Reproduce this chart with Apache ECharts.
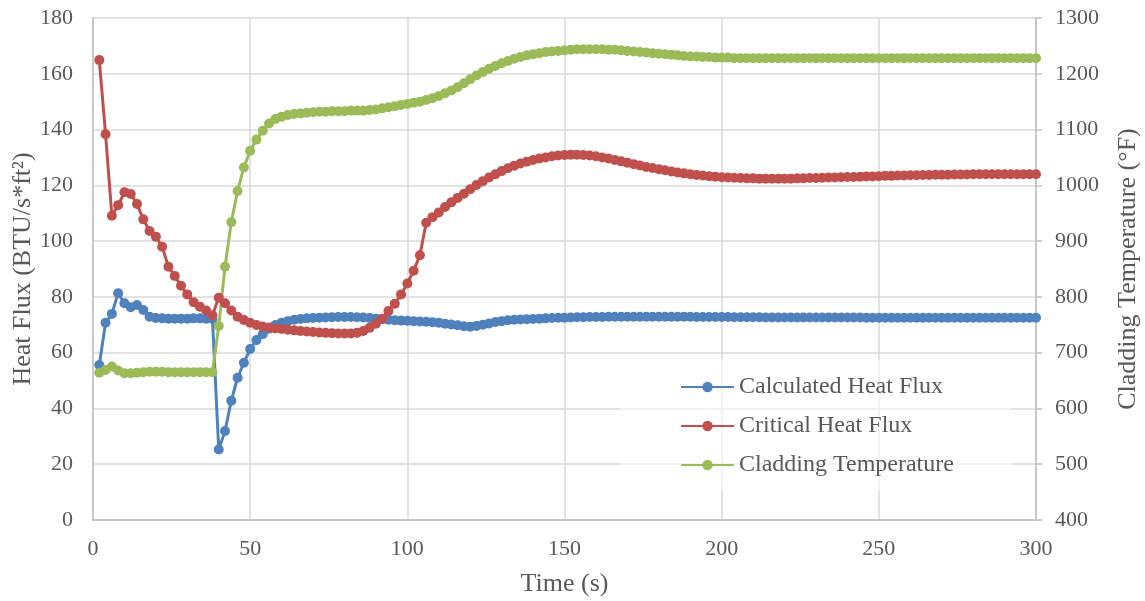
<!DOCTYPE html>
<html>
<head>
<meta charset="utf-8">
<title>Heat Flux and Cladding Temperature</title>
<script src="https://cdn.jsdelivr.net/npm/echarts@6/dist/echarts.min.js"></script>
<style>
  html, body { margin: 0; padding: 0; background: #ffffff; }
  #chart { width: 1145px; height: 601px; }
</style>
</head>
<body>
<div id="chart"></div>
<script>
// Sample times (s)
const times = [
  2, 4, 6, 8, 10, 12, 14, 16, 18, 20,
  22, 24, 26, 28, 30, 32, 34, 36, 38, 40,
  42, 44, 46, 48, 50, 52, 54, 56, 58, 60,
  62, 64, 66, 68, 70, 72, 74, 76, 78, 80,
  82, 84, 86, 88, 90, 92, 94, 96, 98, 100,
  102, 104, 106, 108, 110, 112, 114, 116, 118, 120,
  122, 124, 126, 128, 130, 132, 134, 136, 138, 140,
  142, 144, 146, 148, 150, 152, 154, 156, 158, 160,
  162, 164, 166, 168, 170, 172, 174, 176, 178, 180,
  182, 184, 186, 188, 190, 192, 194, 196, 198, 200,
  202, 204, 206, 208, 210, 212, 214, 216, 218, 220,
  222, 224, 226, 228, 230, 232, 234, 236, 238, 240,
  242, 244, 246, 248, 250, 252, 254, 256, 258, 260,
  262, 264, 266, 268, 270, 272, 274, 276, 278, 280,
  282, 284, 286, 288, 290, 292, 294, 296, 298, 300
];

// Calculated heat flux (BTU/s*ft²)
const calculatedHeatFlux = [
  55.6, 70.7, 73.9, 81.3, 77.7, 76.3, 77.1, 75.3, 72.9, 72.4,
  72.3, 72.2, 72.2, 72.2, 72.2, 72.3, 72.3, 72.2, 72.1, 25.3,
  31.9, 42.8, 51.0, 56.4, 61.3, 64.5, 66.6, 68.6, 69.9, 70.7,
  71.3, 71.8, 72.1, 72.3, 72.4, 72.5, 72.6, 72.7, 72.8, 72.8,
  72.8, 72.7, 72.6, 72.4, 72.2, 72.0, 71.8, 71.6, 71.5, 71.4,
  71.3, 71.2, 71.1, 70.9, 70.7, 70.4, 70.1, 69.8, 69.5, 69.3,
  69.6, 70.0, 70.5, 71.0, 71.3, 71.6, 71.8, 71.9, 72.0, 72.1,
  72.2, 72.3, 72.4, 72.5, 72.5, 72.6, 72.7, 72.7, 72.8, 72.8,
  72.8, 72.9, 72.9, 72.9, 72.9, 72.9, 72.9, 72.9, 72.9, 72.9,
  72.9, 72.9, 72.9, 72.9, 72.9, 72.8, 72.8, 72.8, 72.8, 72.8,
  72.8, 72.7, 72.7, 72.7, 72.7, 72.7, 72.6, 72.6, 72.6, 72.6,
  72.6, 72.6, 72.6, 72.6, 72.6, 72.6, 72.6, 72.6, 72.6, 72.6,
  72.6, 72.6, 72.5, 72.5, 72.5, 72.5, 72.5, 72.5, 72.5, 72.5,
  72.5, 72.5, 72.5, 72.5, 72.5, 72.5, 72.5, 72.5, 72.5, 72.5,
  72.5, 72.5, 72.5, 72.5, 72.5, 72.5, 72.5, 72.5, 72.5, 72.5
];

// Critical heat flux (BTU/s*ft²)
const criticalHeatFlux = [
  164.9, 138.3, 109.1, 112.9, 117.5, 116.9, 113.3, 107.8, 103.6, 101.6,
  98.0, 90.8, 87.5, 84.0, 80.9, 78.1, 76.5, 75.1, 73.4, 79.7,
  77.7, 75.1, 72.9, 71.7, 70.7, 69.9, 69.4, 69.0, 68.7, 68.5,
  68.2, 68.0, 67.8, 67.6, 67.4, 67.2, 67.1, 67.0, 66.9, 66.9,
  66.9, 67.1, 67.8, 68.9, 70.4, 72.2, 74.9, 77.5, 80.9, 84.8,
  89.4, 94.9, 106.6, 108.6, 110.3, 112.2, 113.9, 115.5, 117.0, 118.6,
  120.1, 121.5, 122.8, 124.0, 125.1, 126.1, 127.0, 127.8, 128.5, 129.1,
  129.6, 130.0, 130.4, 130.7, 130.9, 131.0, 131.0, 130.9, 130.7, 130.4,
  130.0, 129.6, 129.1, 128.6, 128.1, 127.6, 127.1, 126.6, 126.2, 125.8,
  125.4, 125.0, 124.6, 124.3, 124.0, 123.7, 123.5, 123.3, 123.1, 122.9,
  122.8, 122.7, 122.6, 122.5, 122.5, 122.4, 122.4, 122.4, 122.4, 122.4,
  122.4, 122.5, 122.5, 122.6, 122.6, 122.7, 122.8, 122.8, 122.9, 123.0,
  123.0, 123.1, 123.2, 123.2, 123.3, 123.4, 123.4, 123.5, 123.5, 123.6,
  123.6, 123.7, 123.7, 123.8, 123.8, 123.8, 123.9, 123.9, 123.9, 124.0,
  124.0, 124.0, 124.0, 124.0, 124.0, 124.0, 124.0, 124.0, 124.0, 124.0
];

// Cladding temperature (°F)
const claddingTemperature = [
  664, 669, 675, 668, 663, 663, 664, 665, 666, 666,
  666, 665, 665, 665, 665, 665, 665, 665, 665, 748,
  854, 934, 990, 1032, 1062, 1082, 1098, 1111, 1119, 1123,
  1126, 1128, 1129, 1130, 1131, 1132, 1132, 1133, 1133, 1133,
  1134, 1134, 1134, 1135, 1136, 1138, 1140, 1142, 1144, 1146,
  1148, 1150, 1153, 1156, 1160, 1165, 1170, 1176, 1183, 1190,
  1197, 1203, 1209, 1214, 1219, 1223, 1227, 1230, 1233, 1235,
  1237, 1239, 1240, 1241, 1242, 1243, 1244, 1244, 1244, 1244,
  1244, 1243, 1243, 1242, 1241, 1240, 1239, 1238, 1237, 1236,
  1235, 1234, 1233, 1232, 1231, 1231, 1230, 1230, 1229, 1229,
  1229, 1228, 1228, 1228, 1228, 1228, 1228, 1228, 1228, 1228,
  1228, 1228, 1228, 1228, 1228, 1228, 1228, 1228, 1228, 1228,
  1228, 1228, 1228, 1228, 1228, 1228, 1228, 1228, 1228, 1228,
  1228, 1228, 1228, 1228, 1228, 1228, 1228, 1228, 1228, 1228,
  1228, 1228, 1228, 1228, 1228, 1228, 1228, 1228, 1228, 1228
];

const seriesNames = ['Calculated Heat Flux', 'Critical Heat Flux', 'Cladding Temperature'];
const seriesColors = ['#4F81BD', '#C0504D', '#9BBB59'];

const FONT = "'Liberation Serif', 'Times New Roman', serif";
const TEXT = '#595959';

function pairs(values) {
  return times.map((t, i) => [t, values[i]]);
}

function lineSeries(idx, values, yAxisIndex) {
  return {
    name: seriesNames[idx],
    type: 'line',
    yAxisIndex: yAxisIndex,
    data: pairs(values),
    symbol: 'circle',
    symbolSize: 10,
    showSymbol: true,
    smooth: false,
    animation: false,
    color: seriesColors[idx],
    lineStyle: { width: 3, color: seriesColors[idx] },
    itemStyle: { color: seriesColors[idx] }
  };
}

const chart = echarts.init(document.getElementById('chart'), null, { renderer: 'canvas' });

chart.setOption({
  animation: false,
  backgroundColor: '#ffffff',
  textStyle: { fontFamily: FONT, color: TEXT },
  grid: { left: 93, right: 109, top: 18, bottom: 81, containLabel: false, outerBoundsMode: 'none' },
  legend: {
    orient: 'vertical',
    left: 620,
    top: 360,
    padding: [15, 57, 13, 60],
    itemGap: 15,
    itemWidth: 53,
    itemHeight: 13,
    backgroundColor: 'rgba(255,255,255,0.6)',
    textStyle: { fontFamily: FONT, fontSize: 24, color: TEXT },
    data: seriesNames
  },
  xAxis: {
    type: 'value',
    min: 0,
    max: 300,
    interval: 50,
    name: 'Time (s)',
    nameLocation: 'middle',
    nameGap: 51,
    nameMoveOverlap: false,
    nameTextStyle: { fontFamily: FONT, fontSize: 26, color: TEXT },
    axisLine: { show: true, lineStyle: { color: '#BFBFBF', width: 1.5 } },
    axisTick: { show: false },
    axisLabel: { fontFamily: FONT, fontSize: 22, color: TEXT, margin: 18 },
    splitLine: { show: true, lineStyle: { color: '#D9D9D9', width: 1.5 } }
  },
  yAxis: [
    {
      type: 'value',
      min: 0,
      max: 180,
      interval: 20,
      position: 'left',
      name: 'Heat Flux (BTU/s*ft²)',
      nameLocation: 'middle',
      nameGap: 57,
      nameRotate: 90,
      nameMoveOverlap: false,
      nameTextStyle: { fontFamily: FONT, fontSize: 26, color: TEXT },
      axisLine: { show: true, lineStyle: { color: '#BFBFBF', width: 1.5 } },
      axisTick: { show: false },
      axisLabel: { fontFamily: FONT, fontSize: 22, color: TEXT, margin: 20 },
      splitLine: { show: true, lineStyle: { color: '#D9D9D9', width: 1.5 } }
    },
    {
      type: 'value',
      min: 400,
      max: 1300,
      interval: 100,
      position: 'right',
      name: 'Cladding Temperature (°F)',
      nameLocation: 'middle',
      nameGap: 79,
      nameRotate: 90,
      nameMoveOverlap: false,
      nameTextStyle: { fontFamily: FONT, fontSize: 26, color: TEXT },
      axisLine: { show: true, lineStyle: { color: '#BFBFBF', width: 1.5 } },
      axisTick: { show: true, inside: false, length: 6, lineStyle: { color: '#BFBFBF', width: 1.5 } },
      axisLabel: { fontFamily: FONT, fontSize: 22, color: TEXT, margin: 19, formatter: (v) => String(v) },
      splitLine: { show: false }
    }
  ],
  series: [
    lineSeries(0, calculatedHeatFlux, 0),
    lineSeries(1, criticalHeatFlux, 0),
    lineSeries(2, claddingTemperature, 1)
  ]
});
</script>
</body>
</html>
